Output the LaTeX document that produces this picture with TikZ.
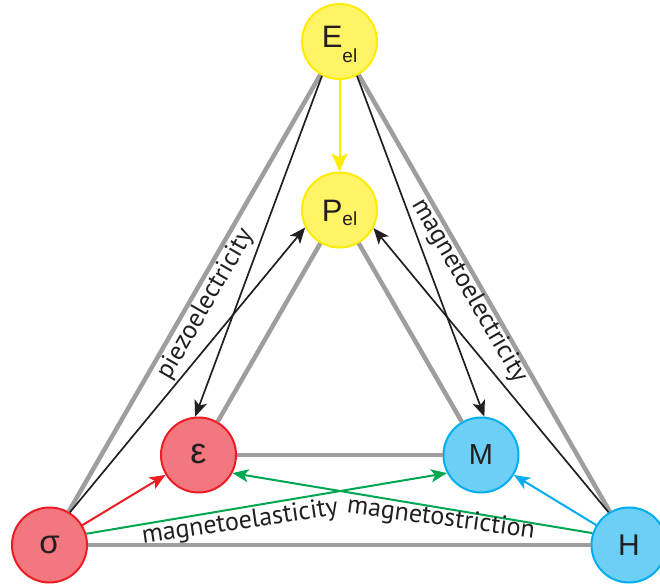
\documentclass[tikz,border=0pt]{standalone}
\usepackage{fontspec}
\setmainfont{Liberation Sans}
\newfontfamily\labfont{PT Sans}
\usetikzlibrary{arrows.meta}
\definecolor{ylwfill}{RGB}{255,243,102}
\definecolor{ylwline}{RGB}{255,236,0}
\definecolor{redfill}{RGB}{243,119,126}
\definecolor{redline}{RGB}{237,28,36}
\definecolor{bluefill}{RGB}{109,207,246}
\definecolor{blueline}{RGB}{0,174,239}
\definecolor{grn}{RGB}{0,166,81}
\definecolor{gry}{RGB}{158,158,158}
\definecolor{blk}{RGB}{35,31,32}
\begin{document}
\begin{tikzpicture}[x=1pt,y=-1pt,
  circ/.style={circle,minimum size=75pt,inner sep=0pt,line width=2pt,text=blk},
  ynode/.style={circ,fill=ylwfill,draw=ylwline},
  rnode/.style={circ,fill=redfill,draw=redline},
  bnode/.style={circ,fill=bluefill,draw=blueline},
  grayline/.style={draw=gry,line width=4.5pt},
  tip/.tip={Stealth[length=16pt,width=13pt,inset=4pt]},
  blkarrow/.style={draw=blk,line width=1.7pt,-tip},
  colarrow/.style={line width=2pt,-tip},
  lab/.style={font=\labfont\fontsize{26}{26}\selectfont,text=blk,inner sep=0pt}]
\useasboundingbox (0,0) rectangle (660,585);
\clip (0,0) rectangle (660,585);
% nodes
\node[ynode] (E) at (339.5,41.5) {\fontsize{31}{31}\selectfont\raisebox{4.5pt}[22pt][0pt]{E}\fontsize{19}{19}\selectfont\raisebox{-10pt}[0pt][0pt]{el}};
\node[ynode] (P) at (339.5,210) {\fontsize{31}{31}\selectfont\raisebox{-1pt}[22pt][0pt]{P}\fontsize{19}{19}\selectfont\raisebox{-4.5pt}[0pt][0pt]{el}};
\node[rnode] (eps) at (198.5,455) {\fontsize{36}{36}\selectfont\raisebox{2pt}{ε}};
\node[bnode] (M) at (481,455) {\fontsize{29}{29}\selectfont M};
\node[rnode] (sig) at (49.5,545) {\fontsize{33}{33}\selectfont σ};
\node[bnode] (H) at (629,545) {\fontsize{30}{30}\selectfont H};
% gray structure
\draw[grayline] (sig) -- (E);
\draw[grayline] (E) -- (H);
\draw[grayline] (sig) -- (H);
\draw[grayline] (eps) -- (P);
\draw[grayline] (P) -- (M);
\draw[grayline] (eps) -- (M);
% black arrows
\draw[blkarrow] (E.243) -- (eps.95);
\draw[blkarrow] (E.297) -- (M.85);
\draw[blkarrow] (sig.58) -- (P.207.5);
\draw[blkarrow] (H.122) -- (P.332.5);
% coloured arrows
\draw[colarrow,draw=ylwline,-{Stealth[length=18pt,width=16pt,inset=4pt]}] (E) -- (P);
\draw[colarrow,draw=redline] (sig) -- (eps);
\draw[colarrow,draw=blueline] (H) -- (M);
\draw[colarrow,draw=grn] (sig.17) -- (M.208);
\draw[colarrow,draw=grn] (H.162) -- (eps.332);
% labels
\node[lab,rotate=60.06] (piezo) at (206,304) {piezoelectricity};
\node[lab,rotate=-60.06] (magel) at (469,291) {magnetoelectricity};
\node[lab,rotate=8.3] (magelas) at (240,522.5) {magnetoelasticity};
\node[lab,rotate=-7.8] (magstr) at (441,519) {magnetostriction};
\end{tikzpicture}
\end{document}
